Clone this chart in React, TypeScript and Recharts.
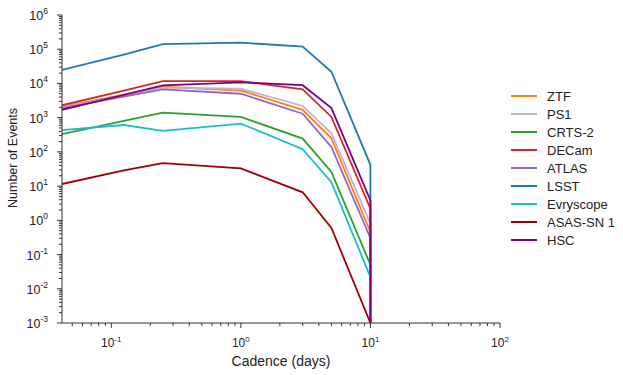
import React from "react";
import { Line, LineChart, XAxis, YAxis } from "recharts";

// cadence in days; the last 10-day point repeats so each line drops to the floor
const cadence = [1 / 24, 0.125, 0.25, 1, 3, 5, 10, 10];

const ztf = [2100, 4700, 8000, 6200, 1700, 250, 0.45, 0.001];
const ps1 = [2000, 4500, 7500, 7000, 2200, 350, 0.8, 0.001];
const crts2 = [330, 800, 1400, 1050, 245, 26, 0.05, 0.001];
const decam = [2300, 6200, 11700, 11700, 6700, 1050, 2.2, 0.001];
const atlas = [1900, 4100, 6700, 5000, 1300, 140, 0.3, 0.001];
const lsst = [25000, 70000, 140000, 155000, 120000, 22000, 42, 0.001];
const evryscope = [430, 610, 410, 670, 120, 13, 0.022, 0.001];
const asassn = [11.5, 29, 47, 33, 6.6, 0.6, 0.001, 0.001];
const hsc = [1700, 4600, 8800, 10800, 8900, 1900, 3.8, 0.001];

const series = [
  { name: "ZTF", values: ztf, color: "#ff7f0e" },
  { name: "PS1", values: ps1, color: "#c5b0d5" },
  { name: "CRTS-2", values: crts2, color: "#2ca02c" },
  { name: "DECam", values: decam, color: "#d62728" },
  { name: "ATLAS", values: atlas, color: "#9467bd" },
  { name: "LSST", values: lsst, color: "#1f77b4" },
  { name: "Evryscope", values: evryscope, color: "#17becf" },
  { name: "ASAS-SN 1", values: asassn, color: "#a00000" },
  { name: "HSC", values: hsc, color: "#800080" },
];

// major and minor ticks on a log axis
const logTicks = (lo: number, hi: number) => {
  const out: number[] = [];
  const eHi = Math.round(Math.log10(hi));
  for (let e = Math.floor(Math.log10(lo)); e <= eHi; e++) {
    for (let m = 1; m < 10; m++) {
      const v = m * Math.pow(10, e);
      if (v >= lo * 0.9999 && v <= hi * 1.0001) out.push(v);
    }
  }
  return out;
};

const xTicks = logTicks(1 / 24, 100);
const yTicks = logTicks(1e-3, 1e6);

const data = cadence.map((c, i) => {
  const row: Record<string, number> = { cadence: c };
  series.forEach((s) => (row[s.name] = s.values[i]));
  return row;
});

const FONT = '"Liberation Sans", Arial, sans-serif';
const AXIS = "#333";

const isMajor = (v: number) => {
  const l = Math.log10(v);
  return Math.abs(l - Math.round(l)) < 1e-6;
};

const XTick = (props: any) => {
  const { x, y, payload } = props;
  const major = isMajor(payload.value);
  const e = Math.round(Math.log10(payload.value));
  return (
    <g>
      <line x1={x} x2={x} y1={y} y2={y + (major ? 5 : 3)} stroke={AXIS} />
      {major && (
        <text x={x} y={y + 24} textAnchor="middle" fontSize={12} fill="#222" fontFamily={FONT}>
          10
          <tspan dy={-5} fontSize={8}>
            {e}
          </tspan>
        </text>
      )}
    </g>
  );
};

const YTick = (props: any) => {
  const { x, y, payload } = props;
  const major = isMajor(payload.value);
  const e = Math.round(Math.log10(payload.value));
  return (
    <g>
      <line x1={x} x2={x - (major ? 5 : 3)} y1={y} y2={y} stroke={AXIS} />
      {major && (
        <text x={x - 14} y={y + 5} textAnchor="end" fontSize={12.5} fill="#222" fontFamily={FONT}>
          10
          <tspan dy={-6} fontSize={8.5}>
            {e}
          </tspan>
        </text>
      )}
    </g>
  );
};

const YLabel = (props: any) => {
  const { viewBox } = props;
  const cx = viewBox.x + 1;
  const cy = viewBox.y + viewBox.height / 2 - 11;
  return (
    <text
      x={cx}
      y={cy}
      transform={`rotate(-90, ${cx}, ${cy})`}
      textAnchor="middle"
      dominantBaseline="central"
      fontSize={12.5}
      fill="#222"
      fontFamily={FONT}
    >
      Number of Events
    </text>
  );
};

export default function App() {
  return (
    <div style={{ position: "absolute", left: 0, top: 0, width: 623, height: 375, background: "#fff" }}>
      <LineChart
        width={623}
        height={375}
        data={data}
        margin={{ top: 15, right: 123, bottom: 22, left: 12 }}
      >
        <XAxis
          dataKey="cadence"
          type="number"
          scale="log"
          domain={[1 / 24, 100]}
          allowDataOverflow
          ticks={xTicks}
          interval={0}
          tick={<XTick />}
          tickLine={false}
          tickSize={0}
          tickMargin={0}
          height={30}
          axisLine={{ stroke: AXIS }}
          label={{
            value: "Cadence (days)",
            position: "bottom",
            offset: 3,
            style: { fontSize: 14, fill: "#222", fontFamily: FONT },
          }}
        />
        <YAxis
          type="number"
          scale="log"
          domain={[1e-3, 1e6]}
          allowDataOverflow
          ticks={yTicks}
          interval={0}
          tick={<YTick />}
          tickLine={false}
          tickSize={0}
          tickMargin={0}
          width={50}
          axisLine={{ stroke: AXIS }}
          label={{ content: <YLabel /> }}
        />
        {series.map((s) => (
          <Line
            key={s.name}
            dataKey={s.name}
            type="linear"
            stroke={s.color}
            strokeWidth={1.8}
            dot={false}
            activeDot={false}
            isAnimationActive={false}
          />
        ))}
      </LineChart>
      <div style={{ position: "absolute", left: 511, top: 87, fontFamily: FONT, fontSize: 13, color: "#222" }}>
        {series.map((s) => (
          <div key={s.name} style={{ display: "flex", alignItems: "center", height: 18 }}>
            <div style={{ width: 26, height: 2, background: s.color, marginRight: 10 }} />
            <span>{s.name}</span>
          </div>
        ))}
      </div>
    </div>
  );
}
